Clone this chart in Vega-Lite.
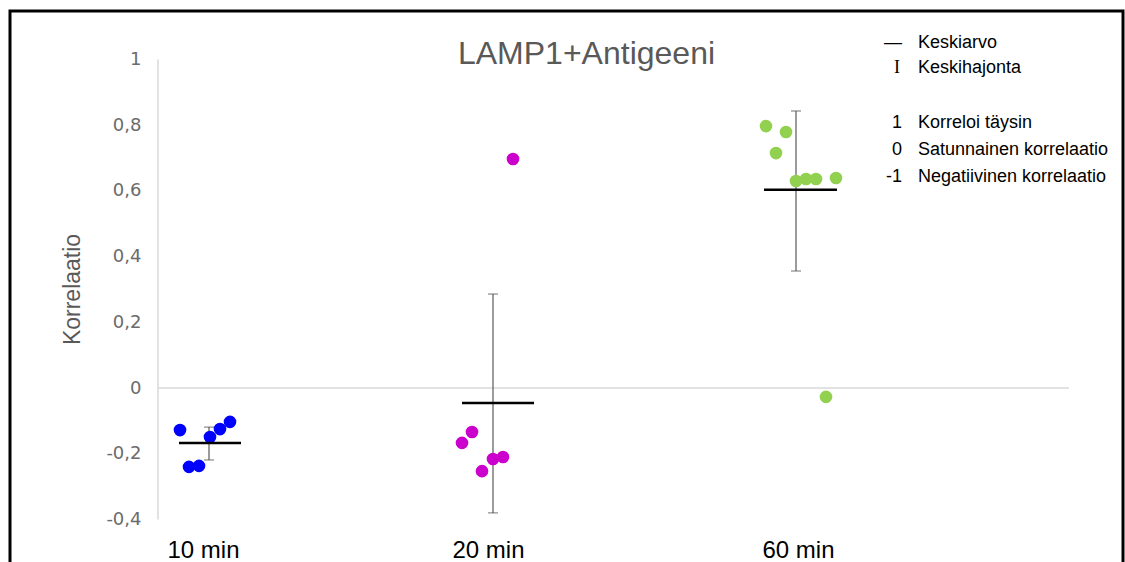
{
  "$schema": "https://vega.github.io/schema/vega-lite/v6.json",
  "width": 1113,
  "height": 556,
  "autosize": {"type": "none"},
  "padding": {"left": 10, "top": 11, "right": 2, "bottom": 0},
  "background": "white",
  "config": {
    "view": {"stroke": "black", "strokeWidth": 3},
    "font": "Liberation Sans"
  },
  "title": {
    "text": "LAMP1+Antigeeni",
    "font": "Liberation Sans",
    "fontSize": 32,
    "fontWeight": "normal",
    "color": "#595959",
    "anchor": "middle",
    "frame": "group",
    "baseline": "alphabetic",
    "offset": 0,
    "dx": 20,
    "dy": 85
  },
  "datasets": {
    "points": [
      {"group": "10 min", "pos": 17.0, "value": -0.128},
      {"group": "10 min", "pos": 17.9, "value": -0.240},
      {"group": "10 min", "pos": 18.9, "value": -0.237},
      {"group": "10 min", "pos": 20.0, "value": -0.149},
      {"group": "10 min", "pos": 21.0, "value": -0.125},
      {"group": "10 min", "pos": 22.0, "value": -0.103},
      {"group": "20 min", "pos": 50.3, "value": 0.697},
      {"group": "20 min", "pos": 46.2, "value": -0.134},
      {"group": "20 min", "pos": 45.2, "value": -0.167},
      {"group": "20 min", "pos": 48.3, "value": -0.216},
      {"group": "20 min", "pos": 49.3, "value": -0.210},
      {"group": "20 min", "pos": 47.2, "value": -0.253},
      {"group": "60 min", "pos": 75.6, "value": 0.797},
      {"group": "60 min", "pos": 77.6, "value": 0.779},
      {"group": "60 min", "pos": 76.6, "value": 0.715},
      {"group": "60 min", "pos": 78.6, "value": 0.630},
      {"group": "60 min", "pos": 79.6, "value": 0.636},
      {"group": "60 min", "pos": 80.6, "value": 0.636},
      {"group": "60 min", "pos": 82.6, "value": 0.639},
      {"group": "60 min", "pos": 81.6, "value": -0.027}
    ],
    "summary": [
      {"group": "10 min", "center": 19.9, "mean": -0.167, "lo": -0.219, "hi": -0.119, "m1": 16.9, "m2": 23.1},
      {"group": "20 min", "center": 48.3, "mean": -0.046, "lo": -0.380, "hi": 0.286, "m1": 45.2, "m2": 52.4},
      {"group": "60 min", "center": 78.6, "mean": 0.603, "lo": 0.356, "hi": 0.843, "m1": 75.4, "m2": 82.7}
    ],
    "legend": [
      {"key": "—", "label": "Keskiarvo", "ly": 1.035},
      {"key": "I", "label": "Keskihajonta", "ly": 0.959},
      {"key": "1", "label": "Korreloi täysin", "ly": 0.791},
      {"key": "0", "label": "Satunnainen korrelaatio", "ly": 0.709},
      {"key": "-1", "label": "Negatiivinen korrelaatio", "ly": 0.627}
    ]
  },
  "layer": [
    {
      "data": {"values": [{}]},
      "mark": {"type": "rule", "color": "#D9D9D9", "strokeWidth": 1.5},
      "encoding": {
        "x": {"datum": 14.8, "type": "quantitative", "scale": {"domain": [0, 111.3], "nice": false, "zero": false}},
        "y": {"datum": -0.4, "type": "quantitative", "scale": {"domain": [-0.5447, 1.1473], "nice": false, "zero": false}},
        "y2": {"datum": 1}
      }
    },
    {
      "data": {"values": [{}]},
      "mark": {"type": "rule", "color": "#D9D9D9", "strokeWidth": 1.5},
      "encoding": {
        "x": {"datum": 14.8, "type": "quantitative"},
        "x2": {"datum": 105.9},
        "y": {"datum": 0, "type": "quantitative"}
      }
    },
    {
      "data": {"name": "summary"},
      "mark": {"type": "rule", "color": "#595959", "strokeWidth": 1.2},
      "encoding": {
        "x": {"field": "center", "type": "quantitative"},
        "y": {"field": "lo", "type": "quantitative"},
        "y2": {"field": "hi"}
      }
    },
    {
      "data": {"name": "summary"},
      "mark": {"type": "tick", "orient": "horizontal", "color": "#595959", "size": 10, "thickness": 1.2},
      "encoding": {
        "x": {"field": "center", "type": "quantitative"},
        "y": {"field": "lo", "type": "quantitative"}
      }
    },
    {
      "data": {"name": "summary"},
      "mark": {"type": "tick", "orient": "horizontal", "color": "#595959", "size": 10, "thickness": 1.2},
      "encoding": {
        "x": {"field": "center", "type": "quantitative"},
        "y": {"field": "hi", "type": "quantitative"}
      }
    },
    {
      "data": {"name": "points"},
      "mark": {"type": "circle", "size": 160, "opacity": 1},
      "encoding": {
        "x": {
          "field": "pos", "type": "quantitative",
          "axis": {
            "title": null,
            "orient": "bottom", "offset": -30, "values": [19.3, 47.8, 78.8],
            "labelExpr": "datum.value < 30 ? '10 min' : datum.value < 60 ? '20 min' : '60 min'",
            "domain": false, "ticks": false, "grid": false,
            "labelFontSize": 24, "labelColor": "black", "labelFont": "Liberation Sans",
            "labelBaseline": "alphabetic", "labelPadding": 20, "labelAlign": "center"
          }
        },
        "y": {
          "field": "value", "type": "quantitative",
          "axis": {
            "title": "Korrelaatio",
            "orient": "left", "offset": -148,
            "values": [-0.4, -0.2, 0, 0.2, 0.4, 0.6, 0.8, 1],
            "labelExpr": "datum.value === 0 ? '0' : datum.value === 1 ? '1' : (datum.value < 0 ? '-' : '') + '0,' + round(abs(datum.value) * 10)",
            "domain": false, "ticks": false, "grid": false,
            "labelFontSize": 18, "labelColor": "#6b6b6b", "labelFont": "DejaVu Sans", "labelPadding": 17,
            "titleFontSize": 23, "titleFontWeight": "normal", "titleColor": "#595959",
            "titleFont": "Liberation Sans", "titleX": -79, "titleY": 278, "titleBaseline": "alphabetic", "titleAlign": "center", "titleAngle": -90
          }
        },
        "color": {
          "field": "group", "type": "nominal",
          "scale": {"domain": ["10 min", "20 min", "60 min"], "range": ["#0000FF", "#CC00CC", "#92D050"]},
          "legend": null
        }
      }
    },
    {
      "data": {"name": "summary"},
      "mark": {"type": "rule", "color": "black", "strokeWidth": 2.5},
      "encoding": {
        "x": {"field": "m1", "type": "quantitative"},
        "x2": {"field": "m2"},
        "y": {"field": "mean", "type": "quantitative"}
      }
    },
    {
      "data": {"name": "legend"},
      "transform": [{"filter": "datum.key !== 'I'"}],
      "mark": {"type": "text", "align": "right", "baseline": "alphabetic", "fontSize": 18, "color": "black", "font": "Liberation Sans"},
      "encoding": {
        "x": {"datum": 89.2, "type": "quantitative"},
        "y": {"field": "ly", "type": "quantitative"},
        "text": {"field": "key"}
      }
    },
    {
      "data": {"name": "legend"},
      "transform": [{"filter": "datum.key === 'I'"}],
      "mark": {"type": "text", "align": "right", "baseline": "alphabetic", "fontSize": 18, "color": "black", "font": "Liberation Serif"},
      "encoding": {
        "x": {"datum": 89.0, "type": "quantitative"},
        "y": {"field": "ly", "type": "quantitative"},
        "text": {"field": "key"}
      }
    },
    {
      "data": {"name": "legend"},
      "mark": {"type": "text", "align": "left", "baseline": "alphabetic", "fontSize": 18, "color": "black", "font": "Liberation Sans"},
      "encoding": {
        "x": {"datum": 90.8, "type": "quantitative"},
        "y": {"field": "ly", "type": "quantitative"},
        "text": {"field": "label"}
      }
    }
  ]
}
